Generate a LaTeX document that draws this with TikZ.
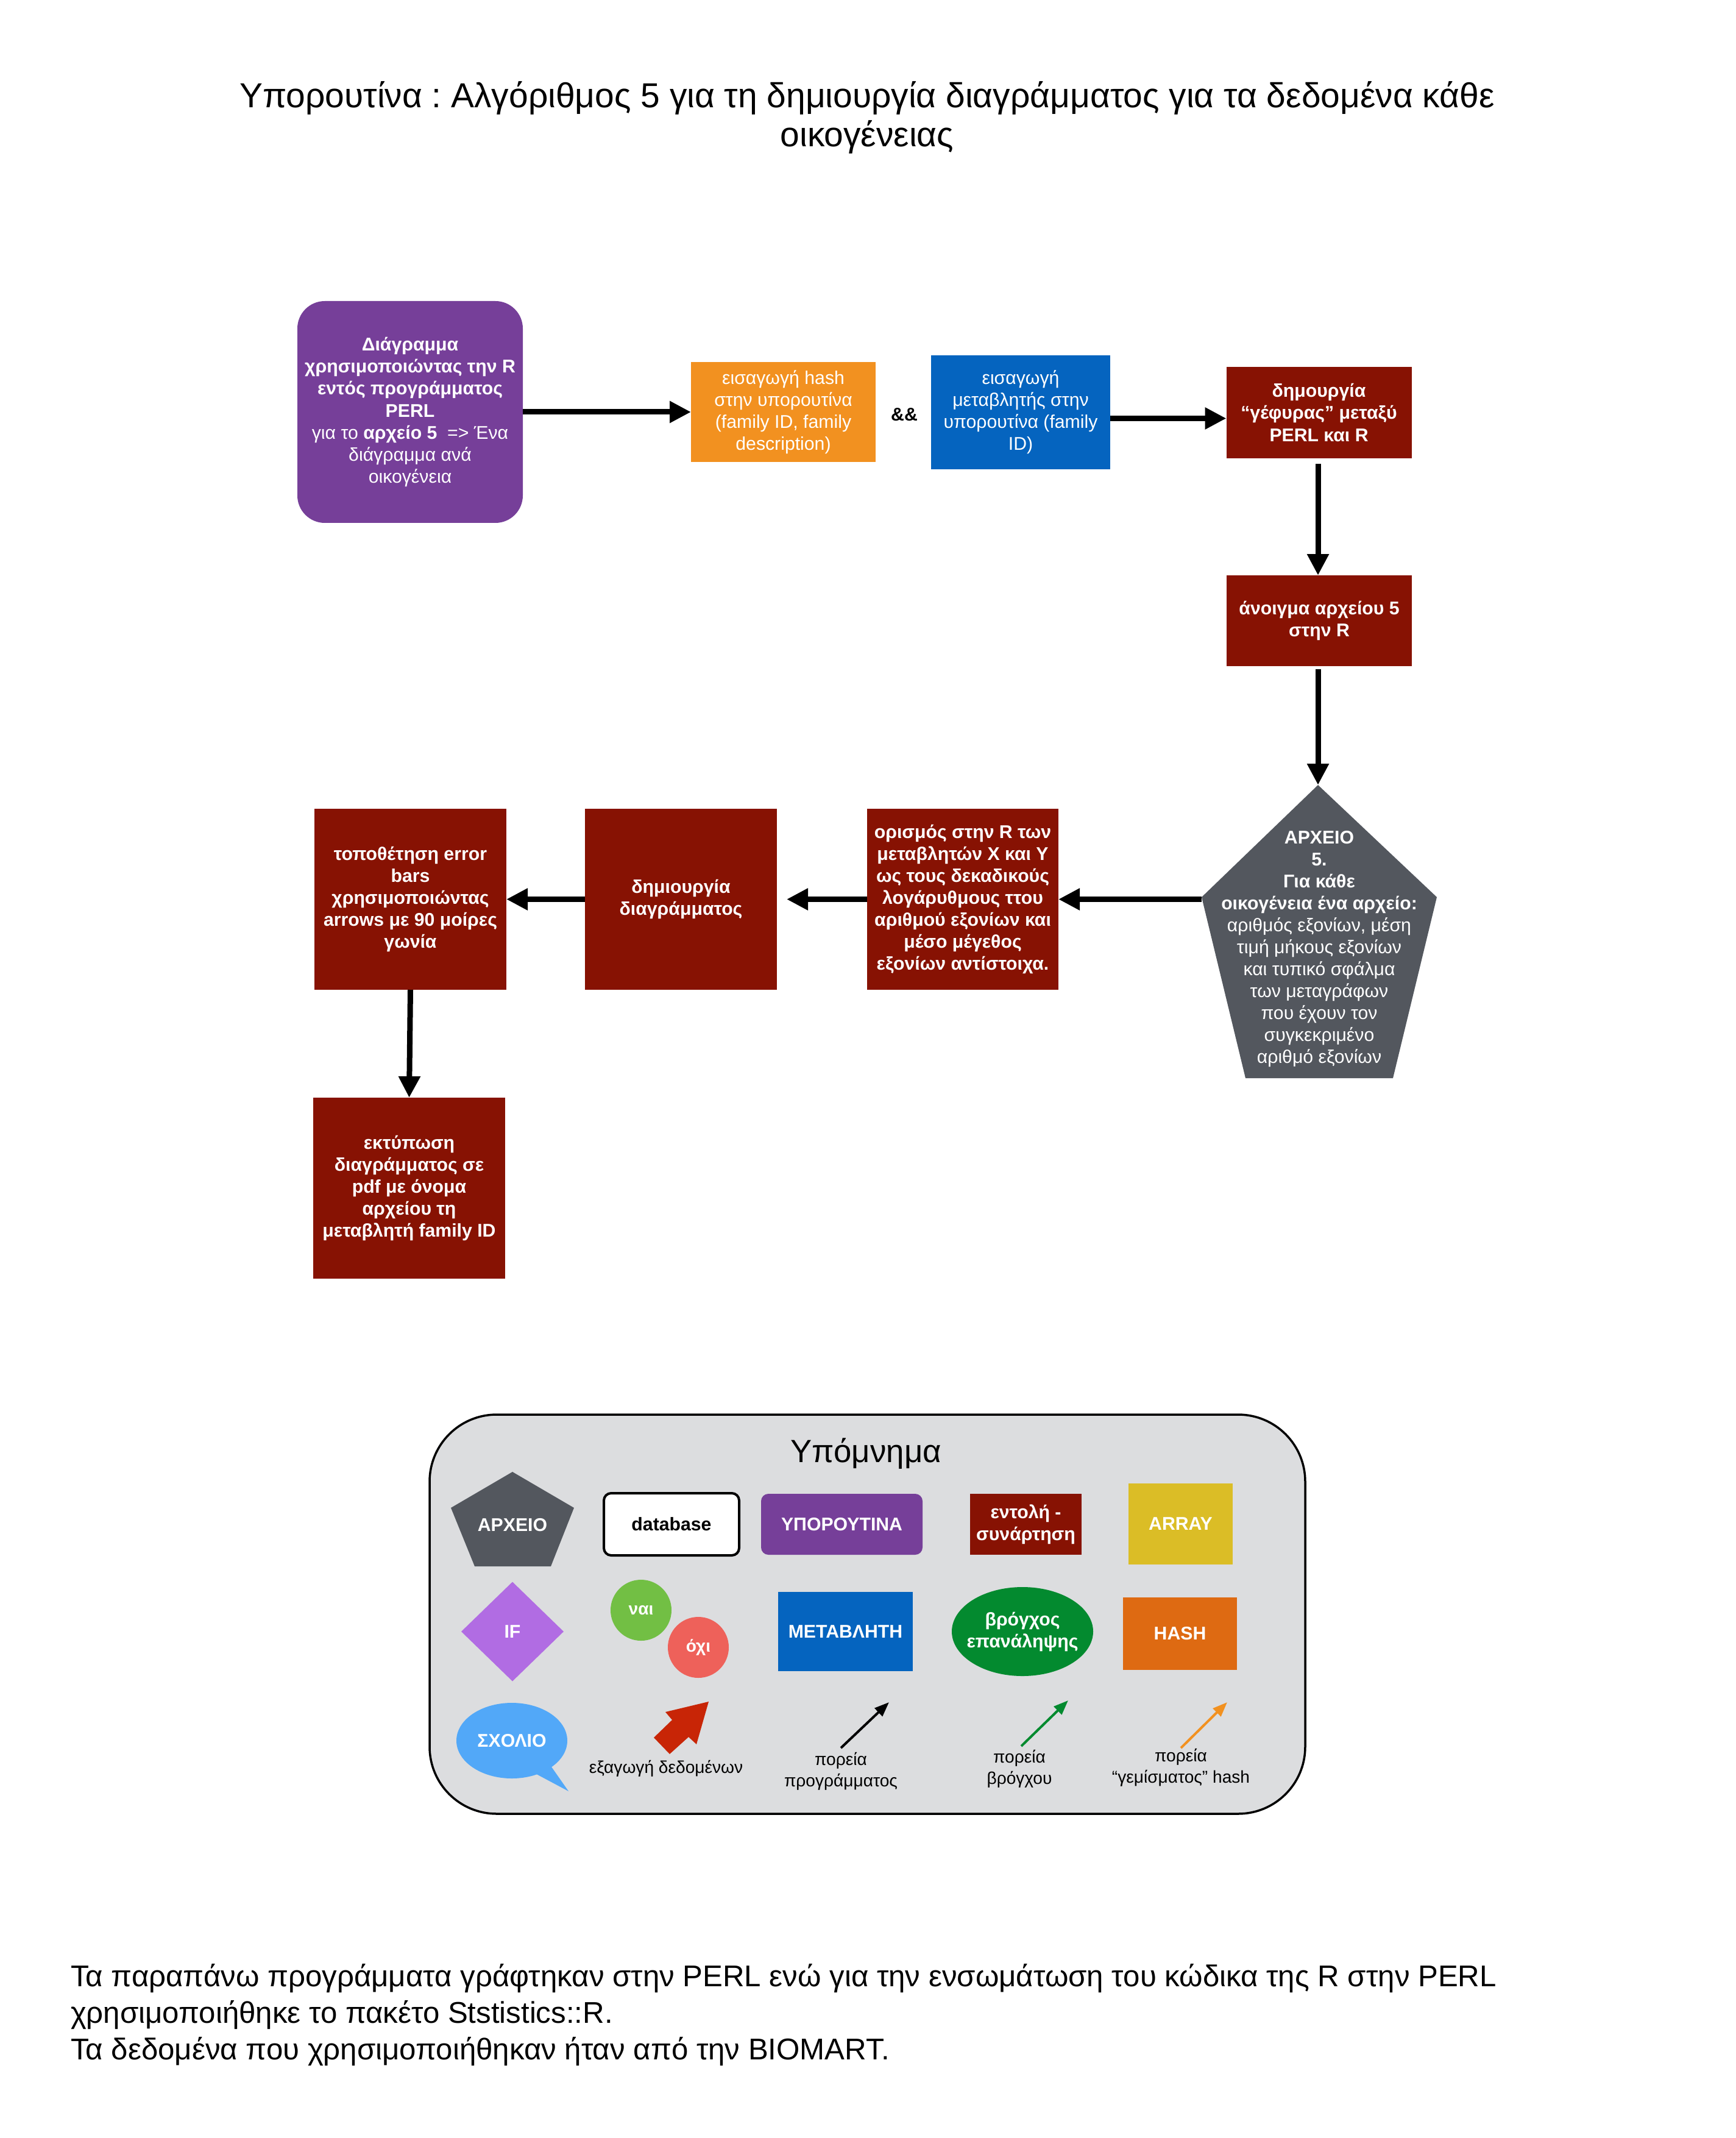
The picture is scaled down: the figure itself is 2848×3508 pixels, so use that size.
\documentclass[tikz,border=0pt]{standalone}
\usepackage{fontspec}
\setmainfont{Liberation Sans}
\usetikzlibrary{arrows.meta,shapes.geometric}
\frenchspacing

\definecolor{cPurple}{RGB}{118,63,153}
\definecolor{cOrange}{RGB}{242,145,32}
\definecolor{cBlue}{RGB}{5,100,191}
\definecolor{cRed}{RGB}{135,18,3}
\definecolor{cGray}{RGB}{83,87,94}
\definecolor{cLegend}{RGB}{220,221,223}
\definecolor{cYellow}{RGB}{219,189,38}
\definecolor{cLilac}{RGB}{177,108,227}
\definecolor{cLime}{RGB}{114,191,68}
\definecolor{cSalmon}{RGB}{238,97,90}
\definecolor{cGreen}{RGB}{3,138,47}
\definecolor{cHash}{RGB}{222,106,18}
\definecolor{cSky}{RGB}{82,168,248}
\definecolor{cExport}{RGB}{200,37,6}

\newcommand{\boxfont}{\fontsize{8.6}{10.25}\selectfont}
\newcommand{\smallfont}{\fontsize{8}{10}\selectfont}

\begin{document}
\begin{tikzpicture}[x=0.1mm,y=-0.1mm,
  every node/.style={inner sep=0pt, outer sep=0pt},
  flow/.style={line width=0.9mm, -{Triangle[length=3.5mm,width=3.4mm]}},
  thinarrow/.style={line width=0.4mm, -{Triangle[length=2.4mm,width=1.8mm]}},
  block/.style={fill=#1, text=white, align=center, font=\boxfont\bfseries},
  plainblock/.style={fill=#1, text=white, align=center, font=\boxfont},
  sz/.style 2 args={minimum width=#1mm, minimum height=#2mm}
]
\useasboundingbox (0,0) rectangle (2848,3508);

% heading
\node[align=center, font=\fontsize{16.2}{18}\selectfont] (title) at (1423,193)
  {Υπορουτίνα : Αλγόριθμος 5 για τη δημιουργία διαγράμματος για τα δεδομένα κάθε\\ οικογένειας};

% ---------- top row ----------
\node[plainblock=cPurple, rounded corners=4.5mm, sz={37}{36.4}] (diag) at (673,676)
  {\textbf{Διάγραμμα}\\ \textbf{χρησιμοποιώντας την R}\\ \textbf{εντός προγράμματος}\\ \textbf{PERL}\\
   για το \textbf{αρχείο 5}\ \ => Ένα\\ διάγραμμα ανά\\ οικογένεια};

\node[plainblock=cOrange, sz={30.3}{16.4}] (hashin) at (1285.5,676)
  {εισαγωγή hash\\ στην υπορουτίνα\\ (family ID, family\\ description)};

\node[font=\boxfont\bfseries] (amp) at (1484,680) {\&\&};

\node[plainblock=cBlue, sz={29.4}{18.7}] (varin) at (1675,676.5)
  {εισαγωγή\\ μεταβλητής στην\\ υπορουτίνα (family\\ ID)};

\node[block=cRed, sz={30.4}{15}] (bridge) at (2164.5,677)
  {δημουργία\\ “γέφυρας” μεταξύ\\ PERL και R};

\node[block=cRed, sz={30.4}{14.9}] (open) at (2165,1018.5)
  {άνοιγμα αρχείου 5\\ στην R};

% data file (pentagon)
\coordinate (pT) at (2163,1288);
\coordinate (pL) at (1972,1472);
\coordinate (pR) at (2358,1472);
\coordinate (pBR) at (2286,1769);
\coordinate (pBL) at (2044,1769);
\fill[cGray] (pT) -- (pR) -- (pBR) -- (pBL) -- (pL) -- cycle;
\node[text=white, align=center, font=\boxfont] (file5) at (2165,1557)
  {\textbf{ΑΡΧΕΙΟ}\\ \textbf{5.}\\ \textbf{Για κάθε}\\ \textbf{οικογένεια ένα αρχείο:}\\
   αριθμός εξονίων, μέση\\ τιμή μήκους εξονίων\\ και τυπικό σφάλμα\\ των μεταγράφων\\
   που έχουν τον\\ συγκεκριμένο\\ αριθμό εξονίων};

% ---------- middle row ----------
\node[block=cRed, sz={31.4}{29.7}] (define) at (1580,1475.5)
  {ορισμός στην R των\\ μεταβλητών X και Y\\ ως τους δεκαδικούς\\ λογάρυθμους ττου\\
   αριθμού εξονίων και\\ μέσο μέγεθος\\ εξονίων αντίστοιχα.};

\node[block=cRed, sz={31.5}{29.7}] (plot) at (1117.5,1475.5)
  {δημιουργία\\ διαγράμματος};

\node[block=cRed, sz={31.5}{29.7}] (errbars) at (673.5,1475.5)
  {τοποθέτηση error\\ bars\\ χρησιμοποιώντας\\ arrows με 90 μοίρες\\ γωνία};

\node[block=cRed, sz={31.5}{29.7}] (print) at (671.5,1949.5)
  {εκτύπωση\\ διαγράμματος σε\\ pdf με όνομα\\ αρχείου τη\\ μεταβλητή family ID};

% ---------- connectors ----------
\draw[flow] (diag.east) -- (hashin.west);
\draw[flow] ([yshift=-1mm]varin.east) -- ([yshift=-1mm]varin.east -| bridge.west);
\draw[flow, shorten <=0.9mm] (bridge.south -| pT) -- (open.north -| pT);
\draw[flow, shorten <=0.5mm] (open.south -| pT) -- (pT);
\draw[flow] (pL |- define.east) -- (define.east);
\draw[flow, shorten >=1.6mm] (define.west) -- (plot.east);
\draw[flow] (plot.west) -- (errbars.east);
\draw[flow] (errbars.south) -- (print.north);

% ---------- legend ----------
\node[draw=black, line width=0.35mm, fill=cLegend, rounded corners=11mm, sz={143.7}{65.5}] (legend) at (1423.5,2648.5) {};
\node[font=\fontsize{15}{18}\selectfont] (legtitle) at (1421,2385) {Υπόμνημα};

% file symbol
\coordinate (lT) at (841,2415);
\coordinate (lL) at (740,2474);
\coordinate (lR) at (942,2474);
\coordinate (lBR) at (904,2570);
\coordinate (lBL) at (779,2570);
\fill[cGray] (lT) -- (lR) -- (lBR) -- (lBL) -- (lL) -- cycle;
\node[text=white, font=\boxfont\bfseries] (lfile) at (841,2502) {ΑΡΧΕΙΟ};

\node[draw=black, line width=0.4mm, fill=white, rounded corners=1.2mm, font=\boxfont\bfseries, sz={22.2}{10.2}] (ldb) at (1102,2501) {database};
\node[block=cPurple, rounded corners=1.2mm, sz={26.5}{10}] (lsub) at (1381.5,2501) {ΥΠΟΡΟΥΤΙΝΑ};
\node[block=cRed, sz={18.3}{10}] (lcmd) at (1683.5,2501) {εντολή -\\ συνάρτηση};
\node[block=cYellow, sz={17.1}{13.3}] (larray) at (1937.5,2500.5) {ARRAY};

\node[diamond, fill=cLilac, text=white, font=\boxfont\bfseries, sz={16.8}{16.3}] (lif) at (841,2677) {IF};
\node[circle, fill=cLime, text=white, font=\smallfont\bfseries, minimum size=10mm] (lyes) at (1052,2642) {ναι};
\node[circle, fill=cSalmon, text=white, font=\smallfont\bfseries, minimum size=10mm] (lno) at (1146,2703) {όχι};
\node[block=cBlue, sz={22.1}{13}] (lvar) at (1387.5,2677) {ΜΕΤΑΒΛΗΤΗ};
\node[ellipse, block=cGreen, inner xsep=-1.5mm, sz={23.2}{14.6}] (lloop) at (1678,2677) {βρόγχος\\ επανάληψης};
\node[block=cHash, sz={18.7}{11.9}] (lhash) at (1936.5,2680.5) {HASH};

% comment bubble
\fill[cSky] (898,2889) -- (933,2939) -- (873,2907) -- cycle;
\node[ellipse, block=cSky, sz={18.2}{12.4}] (lnote) at (840,2856) {ΣΧΟΛΙΟ};

% data export arrow
\fill[cExport] (1163,2792) -- (1092,2809) -- (1103,2822) -- (1073,2851) -- (1099,2878)
  -- (1130,2850) -- (1143,2862) -- cycle;
\node[font=\smallfont] (lexport) at (1093,2902) {εξαγωγή δεδομένων};

% flow arrows
\coordinate (pa0) at (1380,2868); \coordinate (pa1) at (1459,2793);
\coordinate (ba0) at (1676,2865); \coordinate (ba1) at (1753,2790);
\coordinate (ha0) at (1938,2868); \coordinate (ha1) at (2014,2793);
\draw[thinarrow, black] (pa0) -- (pa1);
\draw[thinarrow, cGreen] (ba0) -- (ba1);
\draw[thinarrow, cOrange] (ha0) -- (ha1);
\node[font=\smallfont, align=center] (lprog) at (1380,2906) {πορεία\\ προγράμματος};
\node[font=\smallfont, align=center] (lloopl) at (1673,2902) {πορεία\\ βρόγχου};
\node[font=\smallfont, align=center] (lfill) at (1938,2900) {πορεία\\ “γεμίσματος” hash};

% closing note
\node[anchor=north west, align=left, font=\fontsize{14}{17.1}\selectfont] (foot) at (116,3222)
  {Τα παραπάνω προγράμματα γράφτηκαν στην PERL ενώ για την ενσωμάτωση του κώδικα της R στην PERL\\
   χρησιμοποιήθηκε το πακέτο Ststistics::R.\\
   Τα δεδομένα που χρησιμοποιήθηκαν ήταν από την BIOMART.};
\end{tikzpicture}
\end{document}
